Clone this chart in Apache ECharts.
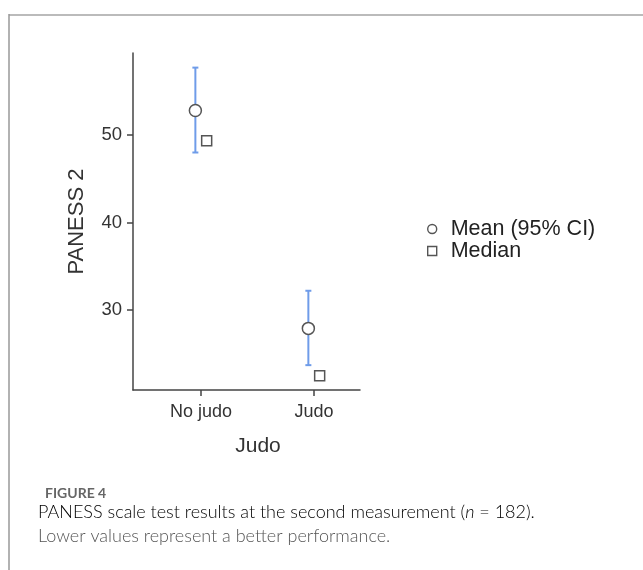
<!DOCTYPE html>
<html>
<head>
<meta charset="utf-8">
<script src="https://cdn.jsdelivr.net/npm/echarts@6/dist/echarts.min.js"></script>
<style>
  html, body { margin: 0; padding: 0; background: #fff; }
  #chart { width: 643px; height: 570px; }
</style>
</head>
<body>
<div id="chart"></div>
<script>
// Group labels and summary statistics for PANESS 2
const categories = ['No judo', 'Judo'];
const means = [52.8, 27.9];
const ciLower = [48.0, 23.7];
const ciUpper = [57.7, 32.2];
const medians = [49.35, 22.5];
const yTicks = [30, 40, 50];

// Groups sit at x = 1, 2; mean and median are dodged a little apart
const dodge = 0.05;
const groupX = categories.map((_, i) => i + 1);

const chart = echarts.init(document.getElementById('chart'), null, { renderer: 'canvas' });

const axisColor = '#444';
const font = 'Liberation Sans, Arial, Helvetica, sans-serif';
const capFont = 'Lato, "Open Sans", sans-serif';

chart.setOption({
  backgroundColor: '#fff',
  animation: false,
  grid: { left: 133, top: 53, width: 227, height: 337, containLabel: false },
  xAxis: {
    type: 'value',
    min: 0.398,
    max: 2.407,
    name: 'Judo',
    nameLocation: 'middle',
    nameGap: 46,
    nameTextStyle: { fontFamily: font, fontSize: 21, color: '#333', padding: [0, 0, 0, 23] },
    axisLine: { show: true, onZero: false, lineStyle: { color: axisColor, width: 1.5 } },
    axisTick: { show: true, length: 6, lineStyle: { color: axisColor, width: 1.5 }, customValues: groupX },
    axisLabel: {
      customValues: groupX,
      margin: 13,
      fontFamily: font, fontSize: 18, color: '#333',
      formatter: v => categories[Math.round(v) - 1] || ''
    },
    splitLine: { show: false }
  },
  yAxis: {
    type: 'value',
    min: 20.86,
    max: 59.37,
    name: 'PANESS 2',
    nameLocation: 'middle',
    nameRotate: 90,
    nameGap: 45,
    nameTextStyle: { fontFamily: font, fontSize: 22, color: '#333' },
    axisLine: { show: true, onZero: false, lineStyle: { color: axisColor, width: 1.5 } },
    axisTick: { show: true, length: 6, lineStyle: { color: axisColor, width: 1.5 }, customValues: yTicks },
    axisLabel: { customValues: yTicks, margin: 11, fontFamily: font, fontSize: 18.5, color: '#333' },
    splitLine: { show: false }
  },
  legend: {
    orient: 'vertical',
    left: 422,
    top: 213,
    itemGap: 0,
    itemWidth: 9,
    itemHeight: 9,
    selectedMode: false,
    textStyle: { fontFamily: font, fontSize: 21.5, color: '#222', lineHeight: 22, padding: [0, 0, 0, 9] },
    data: [
      { name: 'Mean (95% CI)', icon: 'circle', itemStyle: { color: '#fff', borderColor: '#555', borderWidth: 1.4 } },
      { name: 'Median', icon: 'rect', itemStyle: { color: '#fff', borderColor: '#555', borderWidth: 1.4 } }
    ]
  },
  series: [
    {
      // 95% confidence interval bars
      type: 'custom',
      name: 'CI',
      silent: true,
      data: groupX.map((x, i) => [x - dodge, ciLower[i], ciUpper[i]]),
      encode: { x: 0, y: [1, 2] },
      renderItem: (params, api) => {
        const lo = api.coord([api.value(0), api.value(1)]);
        const hi = api.coord([api.value(0), api.value(2)]);
        const cap = 3;
        const style = { stroke: '#6f9ce9', lineWidth: 2 };
        return {
          type: 'group',
          children: [
            { type: 'line', shape: { x1: lo[0], y1: lo[1], x2: hi[0], y2: hi[1] }, style },
            { type: 'line', shape: { x1: lo[0] - cap, y1: lo[1], x2: lo[0] + cap, y2: lo[1] }, style },
            { type: 'line', shape: { x1: hi[0] - cap, y1: hi[1], x2: hi[0] + cap, y2: hi[1] }, style }
          ]
        };
      },
      z: 2
    },
    {
      type: 'scatter',
      name: 'Mean (95% CI)',
      symbol: 'circle',
      symbolSize: 12,
      itemStyle: { color: '#fff', borderColor: '#555', borderWidth: 1.5, opacity: 1 },
      data: groupX.map((x, i) => [x - dodge, means[i]]),
      z: 3
    },
    {
      type: 'scatter',
      name: 'Median',
      symbol: 'rect',
      symbolSize: 10,
      itemStyle: { color: '#fff', borderColor: '#555', borderWidth: 1.5, opacity: 1 },
      data: groupX.map((x, i) => [x + dodge, medians[i]]),
      z: 3
    }
  ],
  graphic: [
    // Figure frame
    { type: 'line', shape: { x1: 9, y1: 15, x2: 643, y2: 15 }, style: { stroke: '#bbb', lineWidth: 2 }, silent: true },
    { type: 'line', shape: { x1: 9, y1: 14, x2: 9, y2: 570 }, style: { stroke: '#999', lineWidth: 1.5 }, silent: true },
    // Caption
    { type: 'text', left: 45, top: 486, style: { text: 'FIGURE 4', fontFamily: capFont, fontSize: 14, fontWeight: 'bold', fill: '#666' } },
    {
      type: 'text', left: 38, top: 503,
      style: {
        rich: {
          r: { fontFamily: capFont, fontSize: 18, fontWeight: 300, color: '#555' },
          i: { fontFamily: capFont, fontSize: 18, fontWeight: 300, fontStyle: 'italic', color: '#555' }
        },
        text: '{r|PANESS scale test results at the second measurement (}{i|n}{r| = 182).}'
      }
    },
    { type: 'text', left: 38, top: 527, style: { text: 'Lower values represent a better performance.', fontFamily: capFont, fontSize: 18, fontWeight: 300, fill: '#555' } }
  ]
});
</script>
</body>
</html>
